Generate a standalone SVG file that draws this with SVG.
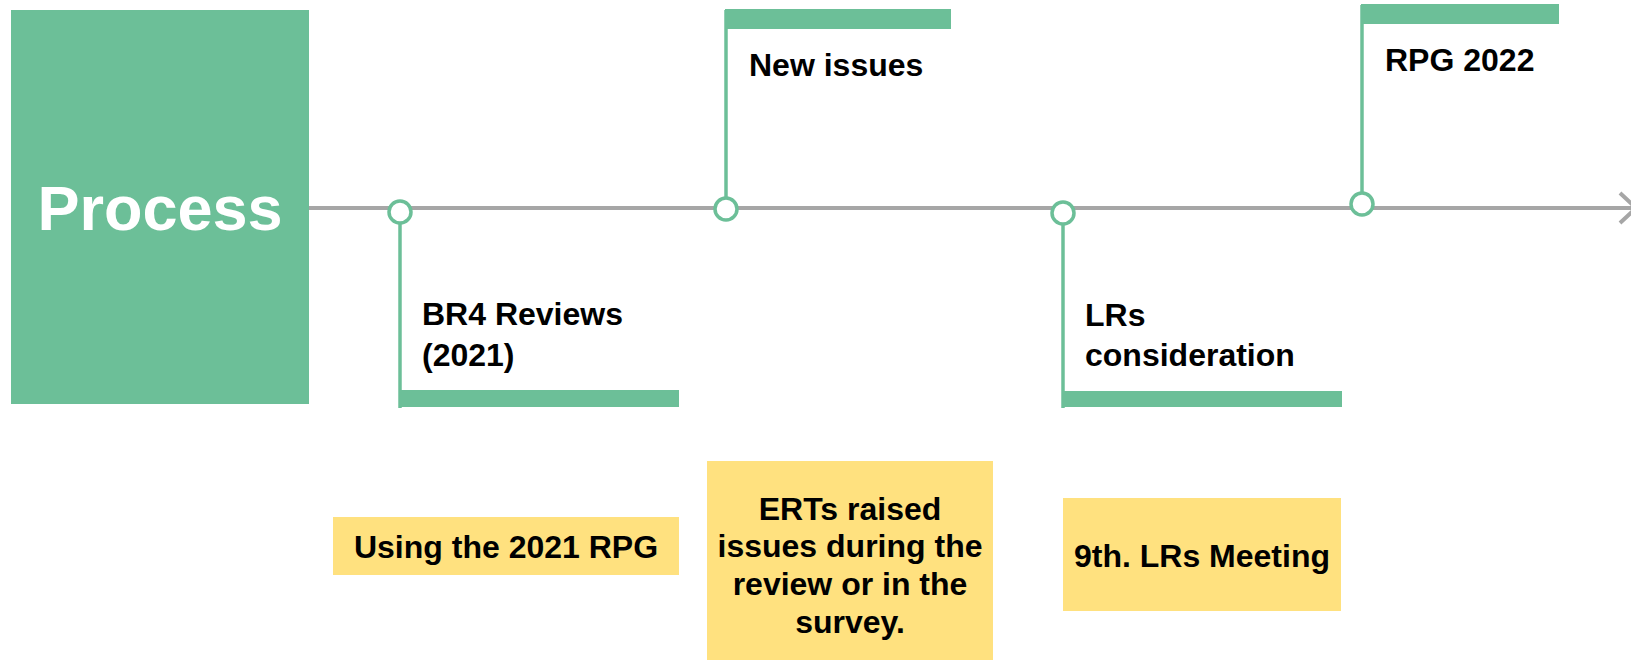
<svg xmlns="http://www.w3.org/2000/svg" width="1631" height="660" viewBox="0 0 1631 660">
<defs>
<style>
.g{fill:#6CBF98}
.stem{stroke:#6CBF98;stroke-width:3.5;fill:none}
.dot{fill:#fff;stroke:#6CBF98;stroke-width:3.5}
.y{fill:#FFE17F}
.t{font-family:"Liberation Sans",Arial,sans-serif;font-weight:bold;font-size:32px;fill:#000}
.c{text-anchor:middle}
.axis{stroke:#A6A6A6;stroke-width:4;fill:none}
</style>
<marker id="chev" markerUnits="userSpaceOnUse" markerWidth="24" markerHeight="40" refX="18" refY="16" orient="auto" viewBox="0 0 24 32">
<polyline points="2,1 18,16 2,31" fill="none" stroke="#A6A6A6" stroke-width="4"/>
</marker>
</defs>
<rect width="1631" height="660" fill="#fff"/>
<g id="connectors">
<line class="axis" x1="309" y1="208" x2="1636" y2="208" marker-end="url(#chev)"/>
</g>
<g id="process">
<rect class="g" x="11" y="10" width="298" height="394"/>
<text x="160" y="230" font-family="Liberation Sans,Arial,sans-serif" font-weight="bold" font-size="63" fill="#fff" text-anchor="middle">Process</text>
</g>
<g id="br4">
<line class="stem" x1="400" y1="222" x2="400" y2="408"/>
<rect class="g" x="400" y="390" width="279" height="17"/>
<circle class="dot" cx="400" cy="212" r="11"/>
<text class="t" x="422" y="325">BR4 Reviews</text>
<text class="t" x="422" y="366">(2021)</text>
</g>
<g id="newissues">
<line class="stem" x1="726" y1="10" x2="726" y2="198"/>
<rect class="g" x="725" y="9" width="226" height="20"/>
<circle class="dot" cx="726" cy="209" r="11"/>
<text class="t" x="749" y="76">New issues</text>
</g>
<g id="lrs">
<line class="stem" x1="1063" y1="224" x2="1063" y2="408"/>
<rect class="g" x="1063" y="391" width="279" height="16"/>
<circle class="dot" cx="1063" cy="213" r="11"/>
<text class="t" x="1085" y="326">LRs</text>
<text class="t" x="1085" y="366">consideration</text>
</g>
<g id="rpg2022">
<line class="stem" x1="1362" y1="5" x2="1362" y2="193"/>
<rect class="g" x="1361" y="4" width="198" height="20"/>
<circle class="dot" cx="1362" cy="204" r="11"/>
<text class="t" x="1385" y="71">RPG 2022</text>
</g>
<g id="using2021">
<rect class="y" x="333" y="517" width="346" height="58"/>
<text class="t c" x="506" y="558">Using the 2021 RPG</text>
</g>
<g id="erts">
<rect class="y" x="707" y="461" width="286" height="199"/>
<text class="t c" x="850" y="520">ERTs raised</text>
<text class="t c" x="850" y="557">issues during the</text>
<text class="t c" x="850" y="595">review or in the</text>
<text class="t c" x="850" y="633">survey.</text>
</g>
<g id="meeting">
<rect class="y" x="1063" y="498" width="278" height="113"/>
<text class="t c" x="1202" y="567">9th. LRs Meeting</text>
</g>
</svg>
